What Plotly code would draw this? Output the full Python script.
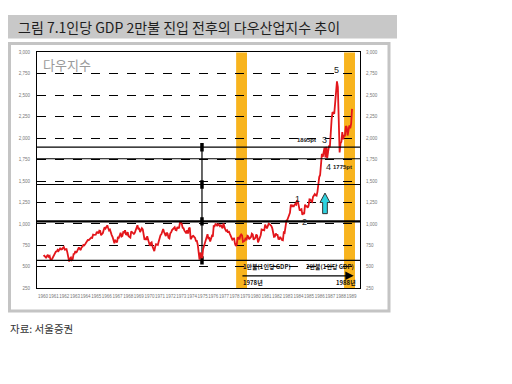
import plotly.graph_objects as go

# ---------------- data ----------------
start_year = 1960
# Dow Jones Industrial Average, monthly
dow_1960s = [
    622.6, 630.1, 616.6, 601.7, 625.5, 640.6, 616.7, 626.0, 580.1, 580.4, 597.2, 615.9,
    648.2, 662.1, 676.6, 678.7, 696.7, 684.0, 705.4, 719.9, 701.2, 703.9, 721.6, 731.1,
    700.0, 708.1, 707.0, 665.3, 613.4, 561.3, 597.9, 609.2, 579.0, 589.8, 649.3, 652.1,
    682.9, 662.9, 682.5, 717.7, 727.0, 706.9, 695.4, 729.3, 732.8, 755.2, 750.5, 763.0,
    785.3, 800.1, 813.3, 810.8, 820.6, 831.5, 841.1, 838.5, 875.4, 873.1, 875.4, 874.1,
    902.9, 903.5, 889.1, 922.3, 918.0, 868.0, 881.7, 893.1, 930.6, 960.8, 946.7, 969.3,
    983.5, 951.9, 924.8, 933.7, 884.1, 870.1, 847.4, 788.4, 774.2, 807.1, 791.6, 785.7,
    849.9, 839.4, 866.0, 897.1, 852.6, 860.3, 904.2, 901.3, 926.7, 879.7, 875.8, 905.1,
    855.5, 840.5, 840.7, 912.2, 899.0, 897.8, 883.0, 896.0, 935.8, 952.4, 985.1, 943.8,
    946.1, 905.2, 935.5, 950.2, 937.6, 873.2, 815.5, 836.7, 813.1, 856.0, 812.3, 800.4,
]
dow_1970s = [
    744.1, 777.6, 785.6, 736.1, 700.4, 683.5, 734.1, 764.6, 760.7, 755.6, 794.1, 838.9,
    868.5, 878.8, 904.4, 941.8, 907.8, 891.1, 858.4, 898.1, 887.2, 839.0, 831.3, 890.2,
    902.2, 928.1, 940.7, 954.2, 960.7, 929.0, 924.7, 963.7, 953.3, 955.5, 1018.2, 1020.0,
    999.0, 955.1, 951.0, 921.4, 901.4, 891.7, 926.4, 887.6, 947.1, 956.6, 822.3, 850.9,
    855.6, 860.5, 846.7, 836.8, 802.2, 802.4, 757.4, 678.6, 585.0, 665.5, 618.7, 600.0,
    703.7, 739.1, 768.2, 821.3, 832.3, 879.0, 831.5, 835.3, 793.9, 836.0, 860.7, 852.4,
    975.3, 972.6, 999.5, 996.9, 975.2, 1002.8, 984.6, 973.7, 990.2, 964.9, 947.2, 1004.7,
    954.4, 936.4, 919.1, 926.9, 898.7, 916.3, 890.1, 861.5, 847.1, 818.4, 829.7, 831.2,
    769.9, 742.1, 757.4, 837.3, 840.6, 819.0, 862.3, 876.8, 865.8, 792.5, 799.0, 805.0,
    839.2, 808.8, 862.2, 854.9, 822.3, 842.0, 846.4, 887.6, 878.6, 815.7, 822.4, 838.7,
]
dow_1980s = [
    875.9, 863.1, 785.8, 817.1, 850.9, 867.9, 935.3, 932.6, 932.4, 924.5, 993.3, 964.0,
    947.3, 974.6, 1003.9, 997.8, 991.8, 976.9, 952.3, 881.5, 850.0, 852.6, 889.0, 875.0,
    871.1, 824.4, 822.8, 848.4, 819.5, 811.9, 808.6, 901.3, 896.3, 991.7, 1039.3, 1046.5,
    1075.7, 1112.6, 1130.0, 1226.2, 1200.0, 1222.0, 1199.2, 1216.2, 1233.1, 1225.2, 1276.0, 1258.6,
    1220.6, 1154.6, 1164.9, 1170.8, 1104.9, 1132.4, 1115.3, 1224.4, 1206.7, 1207.4, 1188.9, 1211.6,
    1286.8, 1284.0, 1266.8, 1258.1, 1315.4, 1335.5, 1347.5, 1334.0, 1328.6, 1374.3, 1472.1, 1546.7,
    1571.0, 1709.1, 1818.6, 1784.0, 1876.7, 1892.7, 1775.3, 1898.3, 1767.6, 1877.8, 1914.2, 1896.0,
    2158.0, 2224.0, 2304.7, 2286.4, 2291.6, 2418.5, 2572.1, 2663.0, 2596.3, 1993.5, 1833.6, 1938.8,
    1958.2, 2071.6, 1988.1, 2032.3, 2031.1, 2141.7, 2128.7, 2031.7, 2112.9, 2148.7, 2114.5, 2168.6,
    2342.3,
]
year_labels = [str(y) for y in range(1960, 1990)]
y_ticks = [250, 500, 750, 1000, 1250, 1500, 1750, 2000, 2250, 2500, 2750, 3000]
ref_levels = [1895, 1760, 1460, 1030, 575]         # solid horizontal lines
ref_widths = [1.2, 1.2, 1.2, 2.4, 1.2]
marker_levels = [1895, 1460, 1030, 575]             # vertical line markers
marker_year = 1974.94
bands = [(1978.15, 1979.17), (1988.29, 1989.32)]   # 1만불 / 2만불 periods
wave_labels = ["1", "2", "3", "4", "5"]
wave_x = [1983.95, 1984.6, 1986.45, 1986.8, 1987.6]
wave_y = [1290, 1020, 1975, 1665, 2790]

# ---------------- build ----------------
dow = dow_1960s + dow_1970s + dow_1980s
months = [start_year + (i + 0.5) / 12 for i in range(len(dow))]

# the page body has an 8px margin, so the figure is placed at (8, 8)
OFF = 8
W, H = 512 - OFF, 384 - OFF
def px(x):
    return (x - OFF) / W
def py(y):
    return 1 - (y - OFF) / H

FONT = "Noto Sans CJK KR"
fig = go.Figure()

fig.add_trace(go.Scatter(
    x=[marker_year] * len(marker_levels), y=marker_levels, mode="lines+markers",
    line=dict(color="black", width=1.2),
    marker=dict(symbol="line-ns", size=6, line=dict(color="black", width=3.5)),
    hoverinfo="skip", showlegend=False))

fig.add_trace(go.Scatter(
    x=months, y=dow, mode="lines", line=dict(color="#E3161B", width=1.8),
    showlegend=False))

fig.add_trace(go.Scatter(x=[None], y=[None], yaxis="y2", showlegend=False))

shapes = []
# title band
shapes.append(dict(type="rect", xref="paper", yref="paper",
                   x0=px(7), x1=px(397), y0=py(37), y1=py(13),
                   fillcolor="#C8C8C8", line=dict(width=0), layer="below"))
# panel frame
shapes.append(dict(type="rect", xref="paper", yref="paper",
                   x0=px(9.5), x1=px(389), y0=py(313), y1=py(42),
                   fillcolor="rgba(0,0,0,0)", line=dict(color="#C4C4C4", width=3),
                   layer="below"))
for (b0, b1) in bands:
    shapes.append(dict(type="rect", xref="x", yref="y domain", x0=b0, x1=b1,
                       y0=0, y1=1, fillcolor="#F8B41E", line=dict(width=0),
                       layer="below"))
for lv, lw in zip(ref_levels, ref_widths):
    shapes.append(dict(type="line", xref="x domain", yref="y", x0=0, x1=1,
                       y0=lv, y1=lv, line=dict(color="black", width=lw)))
# cyan up-arrow
ax_c, hw, sw = 1986.5, 0.47, 0.22
y_tip, y_base, y_bot = 1360, 1250, 1120
path = (f"M {ax_c},{y_tip} L {ax_c+hw},{y_base} L {ax_c+sw},{y_base} "
        f"L {ax_c+sw},{y_bot} L {ax_c-sw},{y_bot} L {ax_c-sw},{y_base} "
        f"L {ax_c-hw},{y_base} Z")
shapes.append(dict(type="path", xref="x", yref="y", path=path,
                   fillcolor="#2FD3E0", line=dict(color="#333333", width=1)))

annotations = []
annotations.append(dict(text="그림 7.1인당 GDP 2만불 진입 전후의 다우산업지수 추이",
                        xref="paper", yref="paper", x=px(16), y=py(25),
                        xanchor="left", yanchor="middle", showarrow=False,
                        font=dict(family=FONT, size=14, color="#1E1E1E")))
annotations.append(dict(text="자료: 서울증권", xref="paper", yref="paper",
                        x=px(8), y=py(331), xanchor="left", yanchor="middle",
                        showarrow=False, font=dict(family=FONT, size=10.5, color="#333333")))
annotations.append(dict(text="다우지수", xref="paper", yref="paper",
                        x=px(41), y=py(63), xanchor="left", yanchor="middle",
                        showarrow=False, font=dict(family=FONT, size=13, color="#9A9A9A")))
for t, x, y in zip(wave_labels, wave_x, wave_y):
    annotations.append(dict(text=t, x=x, y=y, showarrow=False,
                            font=dict(family="Liberation Sans", size=9, color="#222222")))
annotations.append(dict(text="<b>1895pt</b>", x=1984.8, y=1975, showarrow=False,
                        font=dict(family="Liberation Sans", size=6, color="#222")))
annotations.append(dict(text="<b>1775pt</b>", x=1988.1, y=1665, showarrow=False,
                        font=dict(family="Liberation Sans", size=6, color="#222")))
annotations.append(dict(text="<b>1만불(1인당 GDP)</b>", x=1978.6, y=500,
                        xanchor="left", showarrow=False,
                        font=dict(family=FONT, size=6, color="#111")))
annotations.append(dict(text="<b>1978년</b>", x=1978.6, y=320,
                        xanchor="left", showarrow=False,
                        font=dict(family=FONT, size=6, color="#111")))
annotations.append(dict(text="<b>2만불(1인당 GDP)</b>", x=1989.45, y=500,
                        xanchor="right", showarrow=False,
                        font=dict(family=FONT, size=6, color="#111")))
annotations.append(dict(text="<b>1988년</b>", x=1989.6, y=320,
                        xanchor="right", showarrow=False,
                        font=dict(family=FONT, size=6, color="#111")))
annotations.append(dict(text="", x=1989.2, y=395, ax=1978.6, ay=395,
                        axref="x", ayref="y", showarrow=True, arrowhead=2,
                        arrowsize=1.4, arrowwidth=1.2, arrowcolor="black"))

tickfont = dict(family="Liberation Sans", size=4.5, color="#777777")
fig.update_layout(
    width=W, height=H, margin=dict(l=0, r=0, t=0, b=0),
    paper_bgcolor="white", plot_bgcolor="rgba(0,0,0,0)",
    shapes=shapes, annotations=annotations,
    xaxis=dict(domain=[px(37), px(360)], range=[1959.436, 1989.79],
               tickvals=list(range(1960, 1990)), ticktext=year_labels,
               showgrid=False, zeroline=False, showline=True, linecolor="black",
               linewidth=1, mirror=True, ticks="", tickfont=tickfont, tickangle=0,
               ticklabelstandoff=3),
    yaxis=dict(domain=[py(290), py(51)], range=[250, 3000],
               tickvals=y_ticks, tickformat=",", showgrid=True, gridcolor="black",
               griddash="dash", gridwidth=1, zeroline=False, showline=True,
               linecolor="black", linewidth=1, mirror=True, ticks="",
               tickfont=tickfont, ticklabelstandoff=5),
    yaxis2=dict(overlaying="y", side="right", range=[250, 3000], tickvals=y_ticks,
                tickformat=",", showgrid=False, zeroline=False, showline=False,
                ticks="", tickfont=tickfont, ticklabelstandoff=5),
)

fig.write_html("out.html")
